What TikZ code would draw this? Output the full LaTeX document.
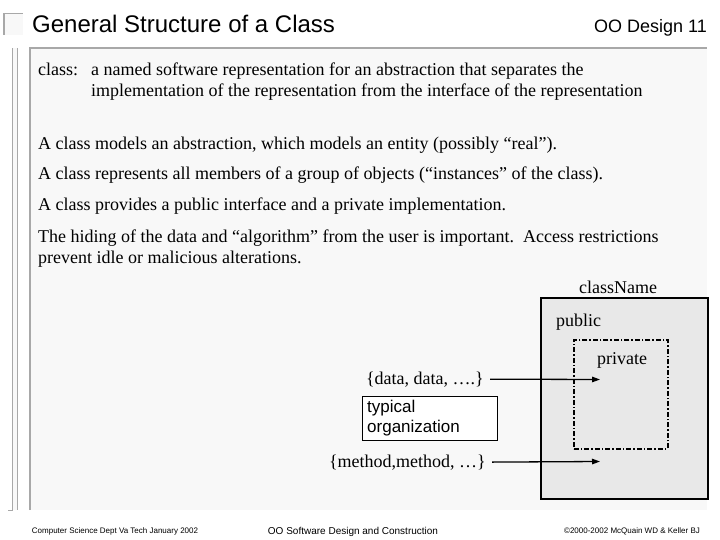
\documentclass[tikz,border=0pt]{standalone}
\usepackage{fontspec}
\setmainfont{Liberation Serif}
\newfontfamily\arialfont{Liberation Sans}
\usetikzlibrary{positioning,arrows.meta}
\definecolor{panel}{HTML}{F8F8F8}
\definecolor{rim}{HTML}{A8A8A8}
\definecolor{classfill}{HTML}{E8E8E8}

\begin{document}
\begin{tikzpicture}[x=1pt,y=-1pt,
  body/.style={inner sep=0pt, anchor=base west, font=\fontsize{18}{21}\selectfont},
  fig/.style={inner sep=0pt, font=\fontsize{18}{22}\selectfont},
  foot/.style={inner sep=0pt, anchor=base, font=\arialfont\fontsize{8}{10}\selectfont},
  tip/.style={-{Triangle[length=8pt,width=5.5pt]}, line width=1.3pt}]
  \useasboundingbox (0,0) rectangle (720,540);

  %Slide frame
  \fill[panel] (3,13) rectangle (23,35);
  \draw[rim, line width=1.2pt] (4,35) -- (4,13.6) -- (23,13.6);
  \fill[panel] (12,48) rectangle (18,510);
  \draw[rim, line width=1pt] (12,48) -- (12,510) -- (8,510);
  \draw[rim, line width=1pt] (17.5,48) -- (17.5,510);
  \fill[panel] (29,47) rectangle (707,510);
  \draw[rim, line width=1.6pt] (30,510) -- (30,47.8) -- (707,47.8);

  %Define title nodes
  \node[anchor=base west, inner sep=0pt, font=\arialfont\fontsize{24}{28}\selectfont]
    (title) at (32,33) {General Structure of a Class};
  \node[anchor=base east, inner sep=0pt, font=\arialfont\fontsize{18}{22}\selectfont]
    (design) at (707,33) {OO Design 11};

  %Define text nodes
  \node[body] (deflabel) at (38,76) {class:};
  \node[body] (def1) at (91,76) {a named software representation for an abstraction that separates the};
  \node[body] (def2) at (91,97) {implementation of the representation from the interface of the representation};
  \node[body] (models) at (38,150) {A class models an abstraction, which models an entity (possibly “real”).};
  \node[body] (represents) at (38,180) {A class represents all members of a group of objects (“instances” of the class).};
  \node[body] (provides) at (38,211) {A class provides a public interface and a private implementation.};
  \node[body] (hiding1) at (38,242) {The hiding of the data and “algorithm” from the user is important.\ \ Access restrictions};
  \node[body] (hiding2) at (38,263) {prevent idle or malicious alterations.};

  %Define diagram nodes
  \node[draw, line width=1.5pt, fill=classfill, anchor=north west, inner sep=0pt,
    minimum width=167pt, minimum height=201pt] (outer) at (540,297) {};
  \node[fig, anchor=base] (classname) at (618,293) {className};
  \node[fig, anchor=base west] (public) at (556,326) {public};
  \node[draw, line width=1.5pt, dash pattern=on 5pt off 2pt on 1.5pt off 2pt,
    anchor=north west, inner sep=0pt, minimum width=94pt, minimum height=109pt]
    (private) at (573,339) {};
  \node[fig, anchor=base west] (privlabel) at (597,364) {private};
  \node[fig, anchor=base east] (data) at (484,384) {\{data, data, ….\}};
  \node[draw, fill=white, anchor=north west, text width=125pt, inner xsep=5pt,
    inner ysep=3pt, align=left, minimum height=44pt,
    font=\arialfont\fontsize{17}{20}\selectfont] (org) at (362,396) {typical\\organization};
  \node[fig, anchor=base east] (methods) at (486,467) {\{method,method, …\}};
  \coordinate (dataend) at (600,379.5);
  \coordinate (methodend) at (600,461.5);

  % Connect the nodes
  \draw[tip, shorten <=6pt] (data.east) -- (dataend);
  \draw[tip, shorten <=6pt] (methods.east) -- (methodend);

  %Footer
  \node[foot] (dept) at (115,533) {Computer Science Dept Va Tech January 2002};
  \node[foot, font=\arialfont\fontsize{10}{12}\selectfont] (course) at (353,534) {OO Software Design and Construction};
  \node[foot] (copy) at (632,533) {©2000-2002 McQuain WD \& Keller BJ};
\end{tikzpicture}
\end{document}
